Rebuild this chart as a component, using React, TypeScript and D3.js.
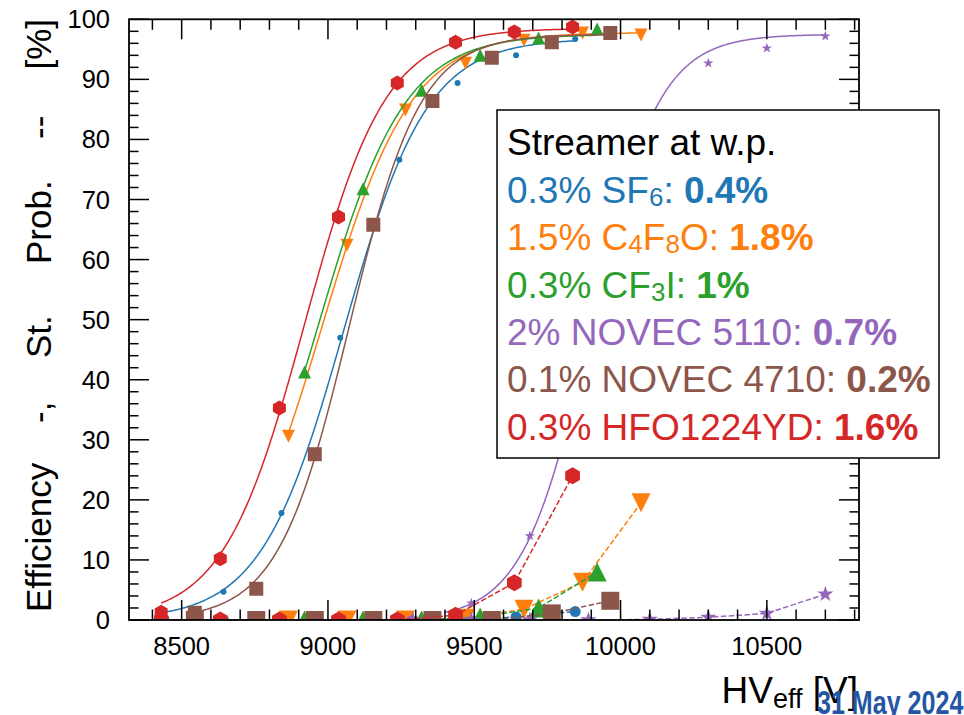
import React from 'react'
import * as d3 from 'd3'

const W = 964
const H = 715
const plot = { left: 129, right: 859, top: 19.3, bottom: 620 }

// HV_eff points [V], efficiency [%], streamer probability [%]
const hvSF6 = [8440, 8643, 8841, 9042, 9244, 9443, 9643, 9845]
const effSF6 = [1.3, 4.7, 17.8, 47.0, 76.6, 89.4, 94.0, 96.7]
const stSF6 = [0, 0, 0, 0, 0, 0, 0.5, 1.4]

const hvC4F8O = [8865, 9065, 9265, 9470, 9670, 9870, 10070]
const effC4F8O = [30.6, 62.4, 84.9, 92.7, 96.5, 97.7, 97.4]
const stC4F8O = [0, 0, 0, 0.3, 1.8, 6.3, 19.5]

const hvCF3I = [8920, 9120, 9320, 9520, 9720, 9920]
const effCF3I = [41.3, 71.8, 88.2, 94.0, 96.9, 98.4]
const stCF3I = [0, 0, 0, 0.5, 2.0, 8.0]

const hvN5110 = [9290, 9490, 9690, 9890, 10100, 10300, 10500, 10700]
const effN5110 = [0.4, 2.8, 14.0, 50, 84, 92.7, 95.2, 97.2]
const stN5110 = [0, 0, 0, 0, 0.1, 0.45, 1.1, 4.3]

const hvN4710 = [8545, 8755, 8955, 9155, 9357, 9560, 9765, 9965]
const effN4710 = [1.2, 5.2, 27.6, 65.8, 86.4, 93.6, 96.2, 97.7]
const stN4710 = [0, 0, 0, 0, 0, 0, 1.1, 3.2]

const hvHFO = [8430, 8632, 8834, 9036, 9237, 9436, 9637, 9836]
const effHFO = [1.3, 10.2, 35.3, 67.1, 89.4, 96.2, 97.9, 98.7]
const stHFO = [0, 0, 0, 0, 0, 0.8, 6.2, 24.0]

// sigmoid fit: [plateau, slope, HV50], drawn over [from, to]
const fitSF6 = [96.8, 0.00703, 9055]
const fitC4F8O = [97.8, 0.0066, 8980]
const fitCF3I = [97.5, 0.00674, 8965]
const fitN5110 = [97.5, 0.0087, 9898]
const fitN4710 = [97.5, 0.0082, 9072]
const fitHFO = [98.5, 0.0072, 8920]

const rangeSF6 = [8440, 9845]
const rangeC4F8O = [8865, 10070]
const rangeCF3I = [8920, 9920]
const rangeN5110 = [9400, 10700]
const rangeN4710 = [8545, 9965]
const rangeHFO = [8430, 9836]

const xTicks = [8500, 9000, 9500, 10000, 10500]
const yTicks = [0, 10, 20, 30, 40, 50, 60, 70, 80, 90, 100]

const gases = [
  { hv: hvSF6, eff: effSF6, st: stSF6, fit: fitSF6, range: rangeSF6, color: '#1f77b4', shape: 'circle', sEff: 6, sSt: 11 },
  { hv: hvC4F8O, eff: effC4F8O, st: stC4F8O, fit: fitC4F8O, range: rangeC4F8O, color: '#ff7f0e', shape: 'down', sEff: 13, sSt: 19 },
  { hv: hvCF3I, eff: effCF3I, st: stCF3I, fit: fitCF3I, range: rangeCF3I, color: '#2ca02c', shape: 'up', sEff: 13, sSt: 19 },
  { hv: hvN5110, eff: effN5110, st: stN5110, fit: fitN5110, range: rangeN5110, color: '#9467bd', shape: 'star', sEff: 11, sSt: 17 },
  { hv: hvN4710, eff: effN4710, st: stN4710, fit: fitN4710, range: rangeN4710, color: '#8c564b', shape: 'square', sEff: 14, sSt: 18 },
  { hv: hvHFO, eff: effHFO, st: stHFO, fit: fitHFO, range: rangeHFO, color: '#d62728', shape: 'hexagon', sEff: 15, sSt: 17 },
]

const marker = (shape: string, s: number) => {
  const r = s / 2
  const poly = (pts: number[][]) => 'M' + pts.map(p => p.map(v => v.toFixed(2)).join(',')).join('L') + 'Z'
  switch (shape) {
    case 'circle':
      return `M${r},0A${r},${r},0,1,1,${-r},0A${r},${r},0,1,1,${r},0Z`
    case 'square':
      return poly([[-r, -r], [r, -r], [r, r], [-r, r]])
    case 'up':
      return poly([[0, -r], [r, r], [-r, r]])
    case 'down':
      return poly([[0, r], [r, -r], [-r, -r]])
    case 'hexagon':
      return poly(d3.range(6).map(i => {
        const a = -Math.PI / 2 + (i * Math.PI) / 3
        return [r * Math.cos(a), r * Math.sin(a)]
      }))
    default:
      return poly(d3.range(10).map(i => {
        const a = -Math.PI / 2 + (i * Math.PI) / 5
        const rr = i % 2 === 0 ? r : r * 0.382
        return [rr * Math.cos(a), rr * Math.sin(a)]
      }))
  }
}

export default function App() {
  const x = d3.scaleLinear().domain([8320, 10815]).range([plot.left, plot.right])
  const y = d3.scaleLinear().domain([0, 100]).range([plot.bottom, plot.top])

  const xMinor = d3.range(8400, 10801, 100)
  const yMinor = d3.range(0, 101, 2)

  const line = d3.line<number[]>().x(d => x(d[0])).y(d => y(d[1]))
  const fitLine = (g: any) => {
    const [emax, k, v50] = g.fit
    const pts = d3.range(g.range[0], g.range[1] + 1, 5).map(v => [v, emax / (1 + Math.exp(-k * (v - v50)))])
    return line(pts)
  }

  const font = 'Liberation Sans, Arial, Helvetica, sans-serif'
  const tickW = 1.5

  return (
    <svg width={W} height={H} style={{ position: 'absolute', left: 0, top: 0, background: '#fff' }} fontFamily={font}>
      <defs>
        <clipPath id="area">
          <rect x={plot.left} y={plot.top} width={plot.right - plot.left} height={plot.bottom - plot.top} />
        </clipPath>
      </defs>

      <g clipPath="url(#area)">
        {gases.map((g, i) => (
          <g key={i}>
            <path d={line(g.hv.map((v, j) => [v, g.st[j]])) as string} fill="none" stroke={g.color} strokeWidth={1.5} strokeDasharray="5.5,2.4" />
            {g.hv.map((v, j) => (
              <path key={'s' + j} d={marker(g.shape, g.sSt)} transform={`translate(${x(v)},${y(g.st[j])})`} fill={g.color} />
            ))}
            <path d={fitLine(g) as string} fill="none" stroke={g.color} strokeWidth={1.5} />
            {g.hv.map((v, j) => (
              <path key={'e' + j} d={marker(g.shape, g.sEff)} transform={`translate(${x(v)},${y(g.eff[j])})`} fill={g.color} />
            ))}
          </g>
        ))}
      </g>

      {/* ticks */}
      <g stroke="#000" strokeWidth={tickW}>
        {xMinor.map(v => {
          const len = v % 500 === 0 ? 20 : 10.5
          return (
            <g key={'x' + v}>
              <line x1={x(v)} x2={x(v)} y1={plot.bottom} y2={plot.bottom - len} />
              <line x1={x(v)} x2={x(v)} y1={plot.top} y2={plot.top + len} />
            </g>
          )
        })}
        {yMinor.map(v => {
          const len = v % 10 === 0 ? 20 : 9.5
          return (
            <g key={'y' + v}>
              <line x1={plot.left} x2={plot.left + len} y1={y(v)} y2={y(v)} />
              <line x1={plot.right} x2={plot.right - len} y1={y(v)} y2={y(v)} />
            </g>
          )
        })}
      </g>
      <rect x={plot.left} y={plot.top} width={plot.right - plot.left} height={plot.bottom - plot.top} fill="none" stroke="#000" strokeWidth={1.8} />

      {xTicks.map(v => (
        <text key={v} x={x(v)} y={655} fontSize={25.5} textAnchor="middle">{v}</text>
      ))}
      {yTicks.map(v => (
        <text key={v} x={110} y={y(v) + 9} fontSize={25.5} textAnchor="end">{v}</text>
      ))}

      {/* y title, words spread along the axis */}
      <g transform={`translate(51,620) rotate(-90)`} fontSize={35}>
        <text x={8}>Efficiency</text>
        <text x={197}>-,</text>
        <text x={262}>St.</text>
        <text x={356}>Prob.</text>
        <text x={481}>--</text>
        <text x={601} textAnchor="end">[%]</text>
      </g>

      <text x={858} y={703} fontSize={37} textAnchor="end">
        HV<tspan fontSize={27} dy={5}>eff</tspan><tspan dy={-5}> [V]</tspan>
      </text>

      {/* legend */}
      <rect x={497} y={110} width={442} height={348} fill="#fff" stroke="#000" strokeWidth={1.5} />
      <g fontSize={37}>
        <text x={507} y={155} fill="#000">Streamer at w.p.</text>
        <text x={507} y={203} fill="#1f77b4">0.3% SF<tspan fontSize={26} dy={3}>6</tspan><tspan dy={-3}>: </tspan><tspan fontWeight="bold">0.4%</tspan></text>
        <text x={507} y={250} fill="#ff7f0e">1.5% C<tspan fontSize={26} dy={3}>4</tspan><tspan dy={-3}>F</tspan><tspan fontSize={26} dy={3}>8</tspan><tspan dy={-3}>O: </tspan><tspan fontWeight="bold">1.8%</tspan></text>
        <text x={507} y={298} fill="#2ca02c">0.3% CF<tspan fontSize={26} dy={3}>3</tspan><tspan dy={-3}>I: </tspan><tspan fontWeight="bold">1%</tspan></text>
        <text x={507} y={345} fill="#9467bd">2% NOVEC 5110: <tspan fontWeight="bold">0.7%</tspan></text>
        <text x={507} y={392} fill="#8c564b">0.1% NOVEC 4710: <tspan fontWeight="bold">0.2%</tspan></text>
        <text x={507} y={440} fill="#d62728">0.3% HFO1224YD: <tspan fontWeight="bold">1.6%</tspan></text>
      </g>

      <text transform="translate(817,714) scale(0.76,1)" fontSize={33} fontWeight="bold" fill="#2456a4">
        31 May 2024
      </text>
    </svg>
  )
}
